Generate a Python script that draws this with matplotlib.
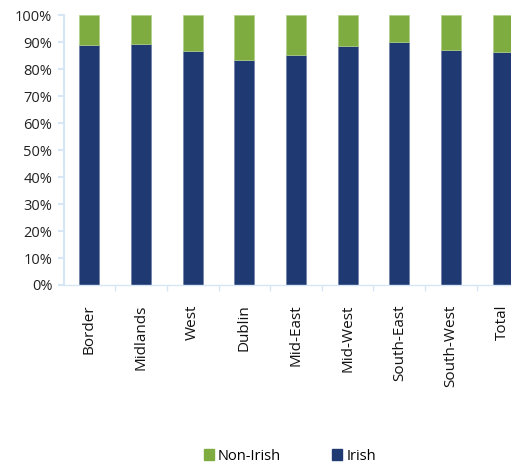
import numpy as np
import matplotlib.pyplot as plt
from matplotlib.patches import Patch

regions = ['Border', 'Midlands', 'West', 'Dublin', 'Mid-East', 'Mid-West',
           'South-East', 'South-West', 'Total']
irish = [88.9, 89.3, 86.7, 83.2, 85.2, 88.6, 89.9, 87.0, 86.3]
non_irish = [100 - v for v in irish]

blue = '#1f3973'
green = '#7fac41'
axis_col = '#d6e6f4'

plt.rcParams['font.family'] = ['Open Sans', 'DejaVu Sans']

fig = plt.figure(figsize=(5.11, 4.69), dpi=100)
# plot area runs past the right edge, so the last bar is cut off
ax = fig.add_axes([63.5 / 511, 184 / 469, 465 / 511, 270 / 469])

x = np.arange(len(regions))
ax.bar(x, irish, width=0.39, color=blue, edgecolor='#6d7fa8', linewidth=0.5)
ax.bar(x, non_irish, bottom=irish, width=0.39, color=green,
       edgecolor='#b0cf88', linewidth=0.5)

ax.set_xlim(-0.5, len(regions) - 0.5)
ax.set_ylim(0, 100)
ax.set_yticks(np.arange(0, 101, 10))
ax.set_yticklabels([f'{v}%' for v in range(0, 101, 10)], fontsize=10.5, color='#222222')
ax.tick_params(axis='y', length=4, color=axis_col, width=1.5, pad=4)

ax.set_xticks(x)
ax.set_xticklabels(regions, rotation=90, fontsize=11, color='#111111')
ax.tick_params(axis='x', length=0, pad=14)
ax.set_xticks(np.arange(0.5, len(regions), 1), minor=True)
ax.tick_params(axis='x', which='minor', length=4, color=axis_col, width=1)

for s in ['top', 'right']:
    ax.spines[s].set_visible(False)
ax.spines['left'].set_color(axis_col)
ax.spines['left'].set_linewidth(1.5)
ax.spines['bottom'].set_color(axis_col)
ax.spines['bottom'].set_linewidth(1)

handles = [Patch(color=green, label='Non-Irish'), Patch(color=blue, label='Irish')]
fig.legend(handles=handles, loc='center', bbox_to_anchor=(290 / 511, 1 - 456 / 469),
           ncol=2, frameon=False, fontsize=10.5, handlelength=0.7, handleheight=0.7,
           handletextpad=0.3, columnspacing=3.5)

fig.savefig('out.png', dpi=100)
